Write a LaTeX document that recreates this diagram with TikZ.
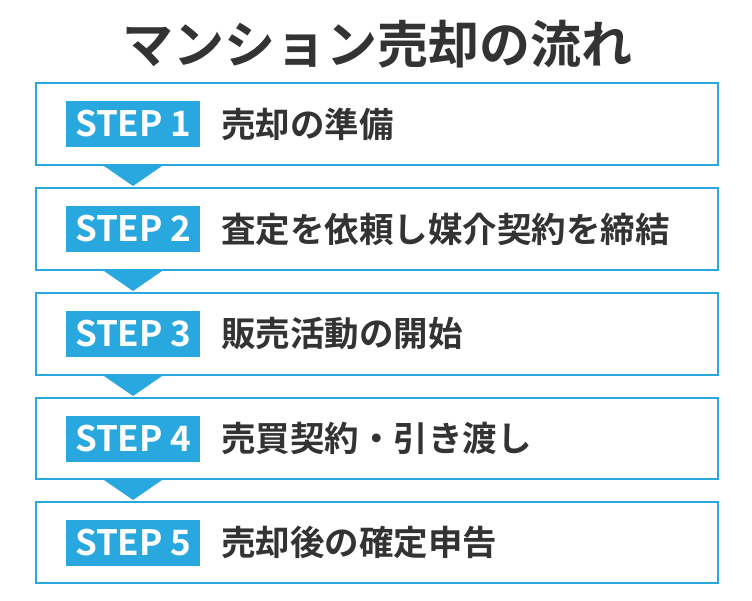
\documentclass[tikz,border=0pt]{standalone}
\usepackage{fontspec}
\newfontfamily\cjk{Noto Sans CJK JP}[BoldFont={Noto Sans CJK JP Bold}]
\definecolor{sb}{HTML}{29A8E0}
\definecolor{tx}{HTML}{333333}
\begin{document}
\begin{tikzpicture}[x=1pt,y=-1pt,
  stepbox/.style={draw=sb,line width=2pt},
  tag/.style={fill=sb,text=white,font=\cjk\bfseries\fontsize{35}{35}\selectfont,minimum width=134pt,minimum height=46pt,inner sep=0pt,anchor=west},
  lbl/.style={text=tx,font=\cjk\bfseries\fontsize{34.5}{34.5}\selectfont,anchor=west,inner sep=0pt},
  tri/.style={fill=sb}]
\useasboundingbox (0,0) rectangle (752,600);
\node[text=tx,font=\cjk\bfseries\fontsize{51}{51}\selectfont] (title) at (377,44) {マンション売却の流れ};
\foreach \i/\t/\b/\s in {1/83/165/売却の準備,2/188/270/査定を依頼し媒介契約を締結,3/293/375/販売活動の開始,4/398/479/売買契約・引き渡し,5/502/583/売却後の確定申告}{
  \draw[stepbox] (36,\t) rectangle (718,\b);
  \node[tag] (t\i) at (66,{(\t+\b)/2}) {STEP \i};
  \node[lbl] (l\i) at (221,{(\t+\b)/2}) {\s};
}
\foreach \b in {166,271,376,480}{
  \fill[tri] (104,\b) -- (162,\b) -- (133,\b+20) -- cycle;
}
\end{tikzpicture}
\end{document}
